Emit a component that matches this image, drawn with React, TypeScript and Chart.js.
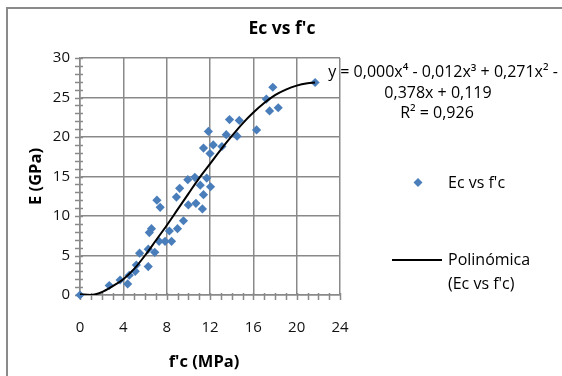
import React, { useEffect, useRef } from "react";
import { Chart, registerables } from "chart.js";

Chart.register(...registerables);

// ---- data ----
const fcValues = [
  0, 2.7, 3.7, 4.4, 4.55, 5.1, 5.2, 6.3, 5.5, 6.3, 6.9, 6.4, 6.6, 7.1, 7.4, 7.3,
  7.85, 8.25, 8.45, 9.0, 8.9, 9.2, 9.55, 9.95, 10.0, 10.6, 10.7, 11.1, 11.3,
  11.4, 11.7, 12.05, 11.4, 11.85, 12.0, 12.3, 13.1, 13.5, 13.8, 14.5, 14.7,
  16.3, 17.2, 17.5, 17.8, 18.3, 21.7,
];
const ecValues = [
  0, 1.2, 1.9, 1.4, 2.5, 3.0, 3.8, 3.6, 5.3, 5.8, 5.4, 7.9, 8.4, 12.0, 11.1, 6.8,
  6.8, 8.1, 6.8, 8.4, 12.4, 13.5, 9.4, 14.6, 11.4, 14.9, 11.6, 13.9, 10.9, 12.7,
  14.8, 13.7, 18.6, 20.7, 17.9, 19.0, 18.8, 20.3, 22.2, 20.1, 22.1, 20.9, 24.8,
  23.3, 26.3, 23.7, 26.9,
];
const trendX = [0, 1, 2, 3, 4, 5, 6, 7, 8, 9, 10, 11, 12, 13, 14, 15, 16, 17, 18, 19, 20, 21, 21.7];
const trendY = [0.1, 0.0, 0.35, 1.1, 2.0, 3.3, 5.0, 6.9, 8.8, 10.8, 12.8, 14.8, 16.6, 18.4, 20.1, 21.7, 23.1, 24.3, 25.3, 26.0, 26.5, 26.8, 26.9];
const xTickValues = [0, 4, 8, 12, 16, 20, 24];
const yTickValues = [0, 5, 10, 15, 20, 25, 30];

const chartTitle = "Ec vs f'c";
const xAxisTitle = "f'c (MPa)";
const yAxisTitle = "E (GPa)";
const seriesLabel = "Ec vs f'c";
const trendLabelLines = ["Polinómica", "(Ec vs f'c)"];
const equationLines = ["y = 0,000x⁴ - 0,012x³ + 0,271x² -", "0,378x + 0,119", "R² = 0,926"];

const FONT = "'Open Sans', 'Noto Sans', 'DejaVu Sans', sans-serif";
const GRID = "#898989";
const BLUE = "#4a7ebb";

const decorPlugin = {
  id: "decor",
  beforeDatasetsDraw(chart: any) {
    const ctx = chart.ctx as CanvasRenderingContext2D;
    const xs = chart.scales.x;
    const ys = chart.scales.y;
    ctx.save();
    ctx.strokeStyle = GRID;
    ctx.lineWidth = 1.5;
    for (let v = xs.min; v <= xs.max; v += 1) {
      const px = Math.round(xs.getPixelForValue(v)) + 0.5;
      ctx.beginPath();
      ctx.moveTo(px, ys.bottom - 2);
      ctx.lineTo(px, ys.bottom + 5);
      ctx.stroke();
    }
    for (let v = ys.min; v <= ys.max; v += 1) {
      const py = Math.round(ys.getPixelForValue(v)) + 0.5;
      ctx.beginPath();
      ctx.moveTo(xs.left - 5, py);
      ctx.lineTo(xs.left + 3, py);
      ctx.stroke();
    }
    ctx.restore();
  },
  afterDraw(chart: any) {
    const ctx = chart.ctx as CanvasRenderingContext2D;
    const xs = chart.scales.x;
    const ys = chart.scales.y;
    ctx.save();
    // outer frame
    ctx.strokeStyle = "#8a8a8a";
    ctx.lineWidth = 2;
    ctx.strokeRect(7, 8, 1200, 1200);

    ctx.fillStyle = "#000";
    ctx.textBaseline = "middle";
    // title
    ctx.font = `bold 17.5px ${FONT}`;
    ctx.textAlign = "center";
    ctx.fillText(chartTitle, 282, 29);
    // x title
    ctx.font = `bold 16.5px ${FONT}`;
    ctx.fillText(xAxisTitle, (xs.left + xs.right) / 2 - 6, 362);
    // y title
    ctx.save();
    ctx.translate(36, (ys.top + ys.bottom) / 2);
    ctx.rotate(-Math.PI / 2);
    ctx.fillText(yAxisTitle, 0, 0);
    ctx.restore();

    // equation
    ctx.font = `16px ${FONT}`;
    ctx.fillText(equationLines[0], 443, 72);
    ctx.fillText(equationLines[1], 438, 93);
    ctx.fillText(equationLines[2], 437, 113);

    // legend
    ctx.textAlign = "left";
    ctx.fillStyle = BLUE;
    ctx.beginPath();
    ctx.moveTo(418, 178);
    ctx.lineTo(422.5, 182.5);
    ctx.lineTo(418, 187);
    ctx.lineTo(413.5, 182.5);
    ctx.closePath();
    ctx.fill();
    ctx.fillStyle = "#000";
    ctx.font = `16px ${FONT}`;
    ctx.fillText(seriesLabel, 448, 183);
    ctx.strokeStyle = "#000";
    ctx.lineWidth = 2;
    ctx.beginPath();
    ctx.moveTo(392, 260);
    ctx.lineTo(442, 260);
    ctx.stroke();
    ctx.fillText(trendLabelLines[0], 448, 260);
    ctx.fillText(trendLabelLines[1], 448, 284);
    ctx.restore();
  },
};

export default function App() {
  const canvasRef = useRef<HTMLCanvasElement | null>(null);

  useEffect(() => {
    document.body.style.margin = "0";
    const canvas = canvasRef.current;
    if (!canvas) return;
    const chart = new Chart(canvas, {
      type: "scatter",
      data: {
        datasets: [
          {
            type: "line",
            label: trendLabelLines.join(" "),
            data: trendX.map((x, i) => ({ x, y: trendY[i] })),
            borderColor: "#000",
            borderWidth: 2,
            pointRadius: 0,
            cubicInterpolationMode: "monotone",
            fill: false,
            order: 0,
          } as any,
          {
            type: "scatter",
            label: seriesLabel,
            data: fcValues.map((x, i) => ({ x, y: ecValues[i] })),
            backgroundColor: BLUE,
            borderColor: BLUE,
            borderWidth: 0,
            pointStyle: "rectRot",
            pointRadius: 4.6,
            clip: false,
            order: 1,
          } as any,
        ],
      },
      options: {
        animation: false,
        responsive: false,
        devicePixelRatio: 1,
        layout: { padding: { left: 0, top: 58, right: 222, bottom: 0 } },
        plugins: { legend: { display: false }, tooltip: { enabled: false }, title: { display: false } },
        scales: {
          x: {
            type: "linear",
            min: 0,
            max: 24,
            afterBuildTicks: (s: any) => {
              s.ticks = xTickValues.map((v) => ({ value: v }));
            },
            ticks: { padding: 24, color: "#111", font: { family: FONT, size: 15 } },
            grid: { color: GRID, lineWidth: 1.5, drawTicks: false },
            border: { color: GRID, width: 1.5 },
            afterFit: (s: any) => {
              s.height = 81;
            },
          },
          y: {
            type: "linear",
            min: 0,
            max: 30,
            afterBuildTicks: (s: any) => {
              s.ticks = yTickValues.map((v) => ({ value: v }));
            },
            ticks: { padding: 10, color: "#111", font: { family: FONT, size: 15 } },
            grid: { color: GRID, lineWidth: 1.5, drawTicks: false },
            border: { color: GRID, width: 1.5 },
            afterFit: (s: any) => {
              s.width = 80;
            },
          },
        },
      },
      plugins: [decorPlugin],
    });
    return () => chart.destroy();
  }, []);

  return (
    <div style={{ position: "absolute", left: 0, top: 0, width: 562, height: 376, background: "#fff" }}>
      <canvas ref={canvasRef} width={562} height={376} style={{ width: 562, height: 376, display: "block" }} />
    </div>
  );
}
